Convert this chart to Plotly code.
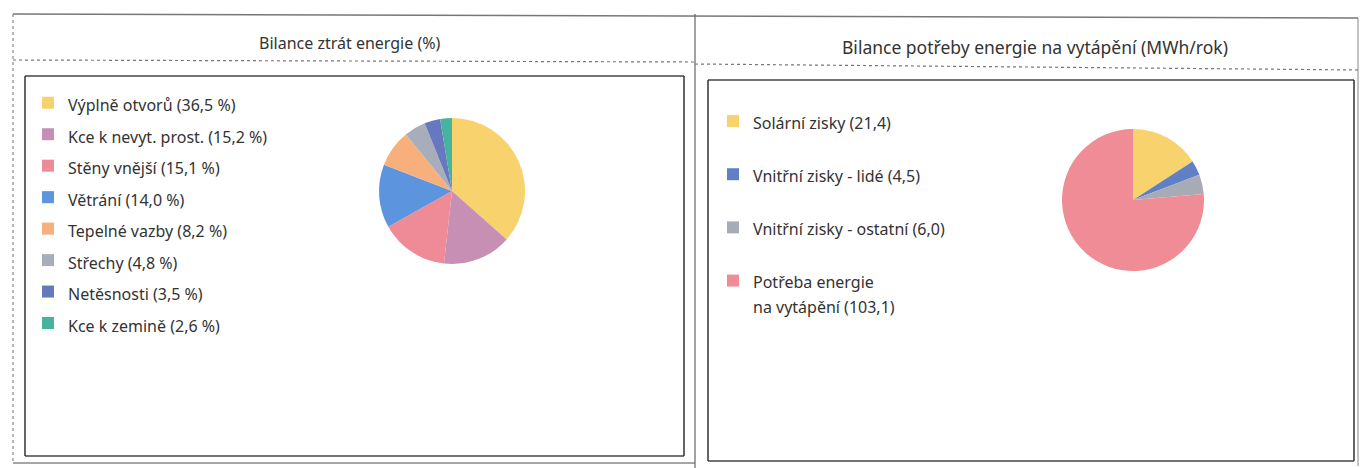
import plotly.graph_objects as go

W, H = 1360, 468

# data
ztraty_labels = ["Výplně otvorů", "Kce k nevyt. prost.", "Stěny vnější", "Větrání",
                 "Tepelné vazby", "Střechy", "Netěsnosti", "Kce k zemině"]
ztraty_values = [36.5, 15.2, 15.1, 14.0, 8.2, 4.8, 3.5, 2.6]
ztraty_colors = ["#f8d26c", "#c78fb3", "#ee8b96", "#5c95de", "#f7b07c",
                 "#a8adbb", "#6878be", "#46b39e"]

bilance_labels = ["Solární zisky", "Vnitřní zisky - lidé", "Vnitřní zisky - ostatní",
                  "Potřeba energie na vytápění"]
bilance_values = [21.4, 4.5, 6.0, 103.1]
bilance_colors = ["#f8d26c", "#5f80c5", "#a7abb5", "#f08c95"]

TXT = "font-size:16px"


def cz(v):
    return f"{v:.1f}".replace(".", ",")


def px(x):
    return x / W


def py(y):
    return 1 - y / H


left_text = [f'<span style="{TXT}">{l} ({cz(v)} %)</span>'
             for l, v in zip(ztraty_labels, ztraty_values)]
right_text = []
for l, v in zip(bilance_labels, bilance_values):
    if l.startswith("Potřeba"):
        right_text.append(f'<span style="{TXT}">Potřeba energie</span><br>'
                          f'<span style="{TXT}">na vytápění ({cz(v)})</span>')
    else:
        right_text.append(f'<span style="{TXT}">{l} ({cz(v)})</span><br>\u00a0')

fig = go.Figure()
fig.add_trace(go.Pie(
    labels=left_text, values=ztraty_values, sort=False, direction="clockwise",
    marker=dict(colors=ztraty_colors, line=dict(width=0)),
    textinfo="none", hoverinfo="label+value", legend="legend",
    domain=dict(x=[px(379), px(525)], y=[py(264), py(118)]),
))
fig.add_trace(go.Pie(
    labels=right_text, values=bilance_values, sort=False, direction="clockwise",
    marker=dict(colors=bilance_colors, line=dict(width=0)),
    textinfo="none", hoverinfo="label+value", legend="legend2",
    domain=dict(x=[px(1062), px(1204)], y=[py(271), py(129)]),
))

shapes = []


def line(x0, y0, x1, y1, color="#555555", width=1.2, dash="solid"):
    shapes.append(dict(type="line", xref="paper", yref="paper",
                       x0=px(x0), y0=py(y0), x1=px(x1), y1=py(y1),
                       line=dict(color=color, width=width, dash=dash)))


# outer frames
line(13, 14, 1358, 18, color="#777777", width=1.5)
line(13, 14, 13, 463, color="#888888", width=1.2, dash="dot")
line(13, 463, 695, 463, color="#888888", width=1.5)
line(695, 14, 695, 468, color="#666666", width=1.2)
line(1358, 18, 1358, 466, color="#888888", width=1.0)
# title separators
line(13, 60, 695, 62, color="#777777", width=1.2, dash="dot")
line(695, 64, 1360, 70, color="#777777", width=1.2, dash="dot")
# inner boxes
for x0, y0, x1, y1 in [(25, 76, 684, 456), (708, 80, 1354, 461)]:
    line(x0, y0, x1, y0, color="#444444", width=1.5)
    line(x0, y1, x1, y1, color="#444444", width=1.5)
    line(x0, y0, x0, y1, color="#333333", width=1.5)
    line(x1, y0, x1, y1, color="#333333", width=1.5)

fig.update_layout(
    width=W, height=H,
    margin=dict(l=0, r=0, t=0, b=0),
    paper_bgcolor="white",
    font=dict(family="Noto Sans, sans-serif", color="#333333"),
    shapes=shapes,
    legend=dict(x=px(28), y=py(82), xanchor="left", yanchor="top",
                font=dict(size=21.9, color="#333333"), bgcolor="rgba(0,0,0,0)",
                borderwidth=0),
    legend2=dict(x=px(713), y=py(102), xanchor="left", yanchor="top",
                 font=dict(size=19.3, color="#333333"), bgcolor="rgba(0,0,0,0)",
                 borderwidth=0, valign="top"),
    annotations=[
        dict(text="Bilance ztrát energie (%)", x=px(350), y=py(43),
             xref="paper", yref="paper", xanchor="center", yanchor="middle",
             showarrow=False, font=dict(size=16, color="#333333")),
        dict(text="Bilance potřeby energie na vytápění (MWh/rok)", x=px(1035), y=py(47),
             xref="paper", yref="paper", xanchor="center", yanchor="middle",
             showarrow=False, font=dict(size=17.5, color="#333333")),
    ],
)

fig.write_html("out.html", config={"displayModeBar": False},
               post_script="document.body.style.margin='0';")
